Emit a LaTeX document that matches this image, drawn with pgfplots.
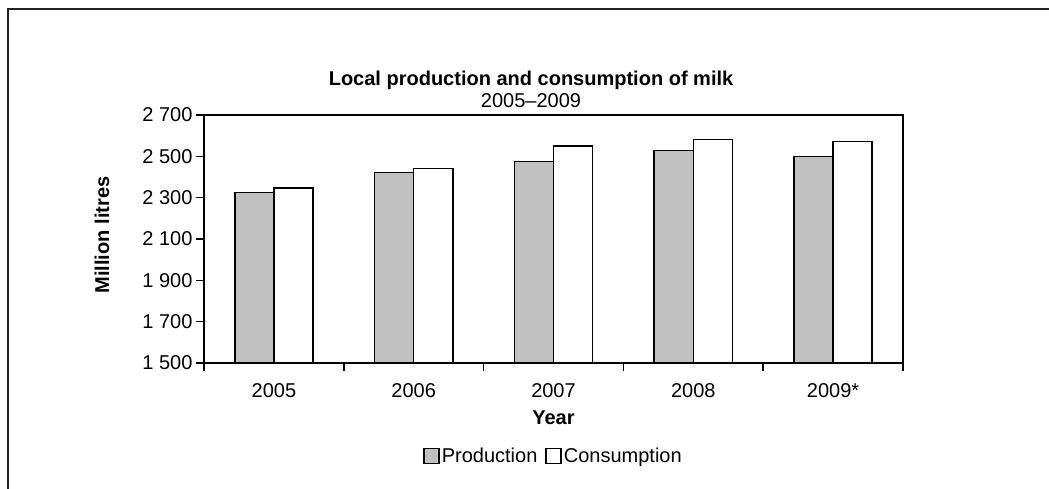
\documentclass[border=0pt]{standalone}
\usepackage{pgfplots}
\pgfplotsset{compat=1.18}
\usepackage{fontspec}
\setmainfont{Liberation Sans}
\definecolor{prodgray}{HTML}{C0C0C0}
\definecolor{framec}{HTML}{222222}
\newcommand{\chartfont}{\fontsize{20bp}{24bp}\selectfont}
\begin{document}
\begin{tikzpicture}
\path[use as bounding box] (0,0) rectangle (1049bp,489bp);
\draw[line width=2bp, color=framec] (7.5bp,0) -- (7.5bp,480bp) -- (1049bp,480bp);
\node[anchor=base, font=\chartfont\bfseries] at (531bp,403bp) {Local production and consumption of milk};
\node[anchor=base, font=\chartfont] at (531bp,381bp) {2005--2009};
\begin{axis}[
  at={(204bp,126bp)}, anchor=south west,
  width=699bp, height=248bp, scale only axis,
  xmin=-0.5, xmax=4.5, ymin=1500, ymax=2700,
  ytick={1500,1700,1900,2100,2300,2500,2700},
  yticklabels={1 500,1 700,1 900,2 100,2 300,2 500,2 700},
  xtick={0,1,2,3,4},
  xticklabels={2005,2006,2007,2008,2009*},
  minor xtick={-0.5,0.5,1.5,2.5,3.5,4.5},
  major x tick style={draw=none},
  tick align=outside,
  major tick length=8bp, minor tick length=8bp,
  tick style={line width=1.5bp, black},
  minor tick style={line width=1.5bp, black},
  axis line style={line width=1.4bp},
  ytick pos=left, xtick pos=bottom,
  ticklabel style={font=\chartfont},
  yticklabel style={anchor=east},
  xticklabel style={anchor=base, yshift=-26bp},
  xlabel={Year},
  ylabel={Million litres},
  xlabel style={font=\chartfont\bfseries, at={(axis description cs:0.5,-0.246)}, anchor=base},
  ylabel style={font=\chartfont\bfseries, at={(axis description cs:-0.146,0.516)}, anchor=center, rotate=0},
  ybar, bar width=0.28,
  legend columns=2,
  legend style={at={(axis description cs:0.5,-0.375)}, anchor=center, draw=none, font=\chartfont, /tikz/every even column/.append style={column sep=6bp}, inner sep=0pt},
  legend image code/.code={\draw[#1, line width=1.5bp] (0bp,-7.5bp) rectangle (15bp,7.5bp);},
  clip=false,
]
\addplot[fill=prodgray, draw=black, line width=1.5bp, bar shift=-0.14] coordinates {(0,2325) (1,2421) (2,2475) (3,2528) (4,2499)};
\addplot[fill=white, draw=black, line width=1.5bp, bar shift=0.14] coordinates {(0,2346) (1,2442) (2,2550) (3,2582) (4,2571)};
\legend{Production, Consumption}
\end{axis}
\end{tikzpicture}
\end{document}
